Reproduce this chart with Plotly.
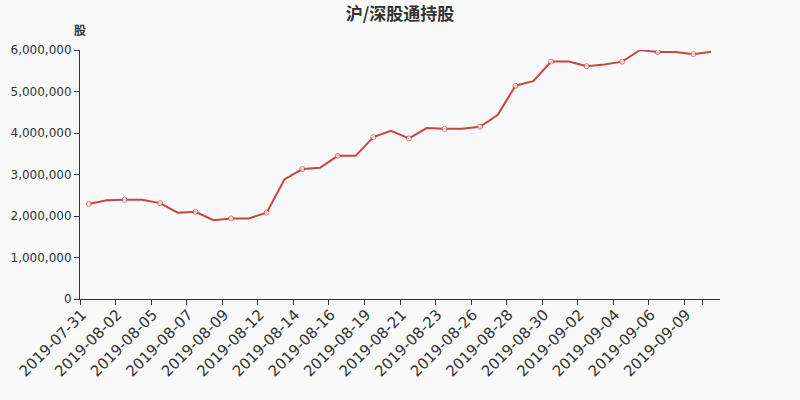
import plotly.graph_objects as go

dates = [
    "2019-07-31", "2019-08-01", "2019-08-02", "2019-08-04", "2019-08-05", "2019-08-06",
    "2019-08-07", "2019-08-08", "2019-08-09", "2019-08-11", "2019-08-12", "2019-08-13",
    "2019-08-14", "2019-08-15", "2019-08-16", "2019-08-18", "2019-08-19", "2019-08-20",
    "2019-08-21", "2019-08-22", "2019-08-23", "2019-08-25", "2019-08-26", "2019-08-27",
    "2019-08-28", "2019-08-29", "2019-08-30", "2019-09-01", "2019-09-02", "2019-09-03",
    "2019-09-04", "2019-09-05", "2019-09-06", "2019-09-08", "2019-09-09", "2019-09-10",
]
shares = [
    2290000, 2380000, 2390000, 2390000, 2310000, 2080000,
    2100000, 1900000, 1940000, 1940000, 2080000, 2880000,
    3130000, 3160000, 3450000, 3450000, 3900000, 4050000,
    3870000, 4120000, 4100000, 4100000, 4150000, 4440000,
    5140000, 5250000, 5720000, 5720000, 5610000, 5650000,
    5720000, 6000000, 5950000, 5950000, 5900000, 5960000,
]
y_ticks = [0, 1000000, 2000000, 3000000, 4000000, 5000000, 6000000]

label_dates = dates[::2]
marker_sizes = [5 if i % 2 == 0 else 0 for i in range(len(dates))]

FONT = "DejaVu Sans, Noto Sans CJK SC, sans-serif"
RED = "#c74545"
BG = "#f9f9f9"

fig = go.Figure()
fig.add_trace(go.Scatter(
    x=dates, y=shares, mode="lines+markers",
    line=dict(color=RED, width=2),
    marker=dict(size=marker_sizes, color="white", line=dict(color=RED, width=1)),
    hovertemplate="%{x}<br>%{y:,}<extra></extra>",
))

fig.update_layout(
    width=800, height=400,
    paper_bgcolor=BG, plot_bgcolor=BG,
    margin=dict(l=80, r=80, t=50, b=101),
    showlegend=False,
    font=dict(family=FONT, color="#333333"),
    title=dict(text="<b>沪/深股通持股</b>", x=0.5, xanchor="center", y=0.965, yanchor="middle",
               font=dict(size=17, color="#333333", family="Noto Sans CJK SC, DejaVu Sans")),
    annotations=[dict(text="<b>股</b>", xref="paper", yref="paper", x=0, y=1.084,
                      xanchor="center", yanchor="middle", showarrow=False,
                      font=dict(size=12, color="#333333", family="Noto Sans CJK SC"))],
)
fig.update_xaxes(
    type="category", categoryorder="array", categoryarray=dates,
    tickmode="array", tickvals=label_dates, ticktext=label_dates,
    tickson="boundaries", tickangle=-45, ticks="outside", ticklen=5,
    ticklabelshift=-7,
    tickcolor="#333333", showline=True, linecolor="#333333", linewidth=1,
    showgrid=False, zeroline=False, tickfont=dict(size=15, color="#333333"),
    range=[-0.5, len(dates) - 0.5], automargin=False,
)
fig.update_yaxes(
    range=[0, 6000000], tickvals=y_ticks, tickformat=",d",
    ticks="outside", ticklen=5, tickcolor="#333333",
    showline=True, linecolor="#333333", linewidth=1,
    showgrid=False, zeroline=False, tickfont=dict(size=12, color="#333333"),
    automargin=False,
)

fig.write_html(
    "out.html",
    config={"displayModeBar": False},
    post_script="document.body.style.margin='0';document.body.style.background='" + BG + "';",
)
